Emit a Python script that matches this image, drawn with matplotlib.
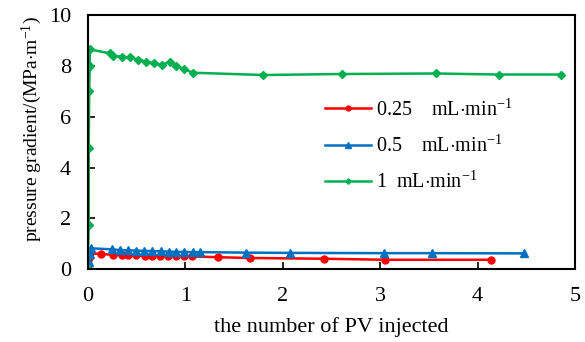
import matplotlib
matplotlib.use('Agg')
import matplotlib.pyplot as plt

plt.rcParams['font.family'] = ['Liberation Serif', 'DejaVu Serif']
plt.rcParams['mathtext.fontset'] = 'custom'
plt.rcParams['mathtext.rm'] = 'Liberation Serif'
plt.rcParams['mathtext.it'] = 'Liberation Serif:italic'

# pressure gradient vs PV injected, three injection rates
x_025 = [0.0, 0.005, 0.01, 0.02, 0.14, 0.26, 0.35, 0.41, 0.50, 0.59, 0.66, 0.74,
         0.82, 0.91, 0.99, 1.07, 1.34, 1.66, 2.42, 3.05, 4.14]
y_025 = [0.0, 0.2, 0.45, 0.62, 0.60, 0.56, 0.55, 0.54, 0.54, 0.53, 0.53, 0.52,
         0.52, 0.51, 0.50, 0.50, 0.47, 0.44, 0.41, 0.37, 0.37]

x_05 = [0.0, 0.01, 0.02, 0.03, 0.25, 0.33, 0.41, 0.50, 0.58, 0.66, 0.75, 0.83,
        0.91, 0.99, 1.08, 1.15, 1.62, 2.08, 3.04, 3.53, 4.48]
y_05 = [0.0, 0.3, 0.6, 0.82, 0.78, 0.75, 0.74, 0.73, 0.72, 0.71, 0.70, 0.69,
        0.68, 0.68, 0.67, 0.67, 0.65, 0.64, 0.63, 0.63, 0.62]

x_1 = [0.0, 0.01, 0.01, 0.015, 0.02, 0.02, 0.23, 0.26, 0.35, 0.43, 0.52, 0.60,
       0.68, 0.76, 0.84, 0.91, 0.99, 1.08, 1.80, 2.61, 3.57, 4.22, 4.86]
y_1 = [0.0, 1.75, 4.75, 7.0, 8.0, 8.65, 8.49, 8.40, 8.36, 8.33, 8.25, 8.16,
       8.10, 8.03, 8.16, 8.00, 7.87, 7.73, 7.64, 7.68, 7.70, 7.66, 7.66]

fig = plt.figure(figsize=(5.85, 3.42), dpi=100)
ax = fig.add_axes([0.150, 0.213, 0.833, 0.743])

unit = r'mL$\cdot$min$^{-1}$'
ax.plot(x_025, y_025, color='#FF0000', lw=1.8, marker='o', ms=5,
        label='0.25    ' + unit)
ax.plot(x_05, y_05, color='#0070C0', lw=1.8, marker='^', ms=5.5,
        label='0.5    ' + unit)
ax.plot(x_1, y_1, color='#00B050', lw=1.8, marker='D', ms=4,
        label='1  ' + unit)

ax.set_xlim(0, 5)
ax.set_ylim(0, 10)
ax.set_xticks([0, 1, 2, 3, 4, 5])
ax.set_yticks([0, 2, 4, 6, 8, 10])
ax.tick_params(direction='in', length=5, width=1.2, labelsize=16)
ax.tick_params(axis='x', pad=13)
ax.tick_params(axis='y', pad=12)
for sp in ax.spines.values():
    sp.set_linewidth(1.5)

ax.set_xlabel('the number of PV injected', fontsize=16, labelpad=8)
ax.set_ylabel(r'pressure gradient/(MPa$\cdot$m$^{-1}$)', fontsize=14)
ax.yaxis.set_label_coords(-0.09, 0.55)

leg = ax.legend(loc='upper left', bbox_to_anchor=(0.45, 0.74), frameon=False,
                fontsize=14.5, handlelength=2.3, handletextpad=0.2,
                labelspacing=0.75, markerscale=0.7)

fig.savefig('out.png', dpi=100)
